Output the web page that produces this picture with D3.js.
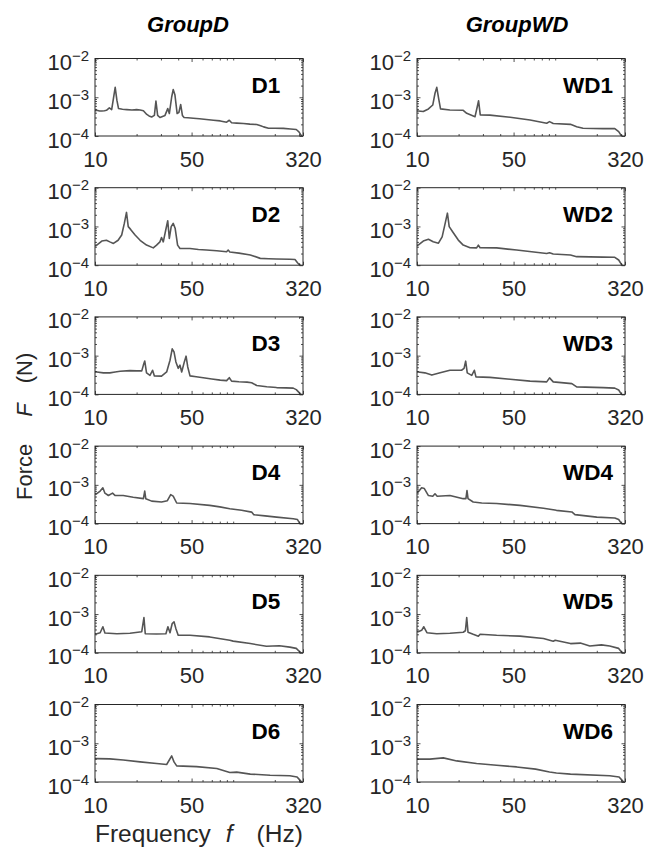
<!DOCTYPE html>
<html>
<head>
<meta charset="utf-8">
<script src="https://cdn.jsdelivr.net/npm/d3@7"></script>
<style>
  html, body { margin: 0; padding: 0; background: #fff; }
  svg { display: block; font-family: "Liberation Sans", Arial, Helvetica, sans-serif; }
</style>
</head>
<body>
<svg id="chart" width="648" height="859"></svg>
<script>
// Column headings and panel names
const groups = ["GroupD", "GroupWD"];
const panelNames = [
  ["D1", "D2", "D3", "D4", "D5", "D6"],
  ["WD1", "WD2", "WD3", "WD4", "WD5", "WD6"]
];

// Axis ticks
const xTickValues = [10, 50, 320];
const xMinorTicks = [20, 30, 40, 60, 70, 80, 90, 100, 200, 300];
const yTickValues = [1e-4, 1e-3, 1e-2];
const yTickExponents = ["-4", "-3", "-2"];
const yMinorTicks = [2e-4, 3e-4, 4e-4, 5e-4, 6e-4, 7e-4, 8e-4, 9e-4,
                     2e-3, 3e-3, 4e-3, 5e-3, 6e-3, 7e-3, 8e-3, 9e-3];

// Force spectra: [frequency (Hz), force (N)]
const D1 = [[10,4.5e-4],[10.3,4.6e-4],[10.8,4.4e-4],[11.2,4.4e-4],[11.7,4.5e-4],[12.1,4.6e-4],[12.7,5.3e-4],[13.2,4.8e-4],
  [13.6,9.3e-4],[14.0,1.8e-3],[14.4,8.4e-4],[14.8,5.1e-4],[15.8,4.9e-4],[17.0,4.8e-4],[18.5,4.7e-4],[20.0,4.8e-4],
  [21.2,4.7e-4],[22.4,4.5e-4],[23.7,3.6e-4],[24.6,3.3e-4],[25.7,3.1e-4],[26.9,3.4e-4],[27.6,8.0e-4],[28.4,3.4e-4],
  [29.5,3.0e-4],[30.8,3.2e-4],[32.1,3.4e-4],[33.6,5.1e-4],[34.5,3.8e-4],[35.9,1.03e-3],[36.8,1.58e-3],[37.9,1.14e-3],
  [39.3,3.8e-4],[40.5,4.1e-4],[41.7,6.5e-4],[42.9,3.4e-4],[44.1,3.0e-4],[47,2.95e-4],[51.5,2.88e-4],[57,2.8e-4],
  [64,2.67e-4],[72,2.55e-4],[80.6,2.45e-4],[89.6,2.27e-4],[93.7,2.55e-4],[97.4,2.2e-4],[106,2.15e-4],[118.6,2.1e-4],
  [132,2.02e-4],[148,1.98e-4],[158,1.85e-4],[166,1.72e-4],[180,1.59e-4],[200,1.58e-4],[231,1.57e-4],[260,1.52e-4],
  [286,1.47e-4],[299,1.28e-4],[313,9.9e-5],[320,9e-5]];
const D2 = [[10,3.2e-4],[10.3,3.3e-4],[11.2,4.2e-4],[12.1,4.4e-4],[12.8,4.0e-4],[13.6,3.65e-4],[14.7,4.4e-4],[15.6,6.0e-4],
  [16.3,1.2e-3],[16.9,2.3e-3],[17.4,9.9e-4],[18.1,8.4e-4],[19.5,6.0e-4],[21.2,4.4e-4],[23.6,3.3e-4],[26.4,2.8e-4],
  [27.9,3.3e-4],[29.5,4.0e-4],[30.3,5.2e-4],[31.2,4.0e-4],[32.5,8.1e-4],[33.6,1.4e-3],[34.5,4.9e-4],[35.6,9.9e-4],
  [36.8,1.2e-3],[38.0,9.0e-4],[39.6,3.3e-4],[41.2,2.7e-4],[48.7,2.7e-4],[56,2.55e-4],[64,2.46e-4],[76,2.35e-4],
  [89.6,2.23e-4],[92,2.46e-4],[94.5,2.2e-4],[110,2.05e-4],[133,1.84e-4],[157,1.5e-4],[180,1.47e-4],[206,1.45e-4],
  [257,1.43e-4],[280,1.4e-4],[292,1.16e-4],[304,1e-4],[320,9e-5]];
const D3 = [[10,3.8e-4],[10.3,3.8e-4],[11.5,3.6e-4],[12.8,3.6e-4],[14,3.8e-4],[15.2,3.95e-4],[17.9,4.1e-4],[20,4.05e-4],
  [21.8,4.05e-4],[22.4,5.7e-4],[22.9,7.3e-4],[23.6,3.6e-4],[25,3.1e-4],[26.1,4.2e-4],[26.9,3.0e-4],[30.3,2.97e-4],
  [33,3.8e-4],[34.9,7.6e-4],[36.2,1.5e-3],[37.3,1.25e-3],[38.5,6.9e-4],[40,4.7e-4],[41.2,5.7e-4],[42.4,3.8e-4],
  [44.3,6.9e-4],[45.6,9.7e-4],[46.9,5.1e-4],[48.7,3.0e-4],[54,2.85e-4],[60.7,2.7e-4],[70,2.5e-4],[80.6,2.33e-4],
  [89.6,2.27e-4],[93.7,2.7e-4],[97.4,2.2e-4],[110,2.12e-4],[126,2.07e-4],[136,2.0e-4],[148,1.7e-4],[175,1.58e-4],
  [206,1.5e-4],[240,1.47e-4],[272,1.45e-4],[286,1.33e-4],[305,1.05e-4],[320,9e-5]];
const D4 = [[10,5.8e-4],[10.3,5.9e-4],[10.9,6.9e-4],[11.4,8.4e-4],[11.8,6.1e-4],[12.5,5.3e-4],[13.4,6.1e-4],[14,5.3e-4],
  [16,5.3e-4],[18.9,4.8e-4],[22.4,4.4e-4],[22.9,6.9e-4],[23.3,4.4e-4],[25.7,3.8e-4],[30.3,3.6e-4],[33.4,3.9e-4],
  [35.3,5.6e-4],[36.8,5.1e-4],[39,3.4e-4],[48.7,3.3e-4],[67.6,2.95e-4],[80,2.7e-4],[94.5,2.42e-4],[115,2.2e-4],
  [136,1.98e-4],[141,1.7e-4],[170,1.58e-4],[206,1.47e-4],[272,1.33e-4],[292,1.27e-4],[304,1e-4],[320,9e-5]];
const D5 = [[10,3.1e-4],[10.3,3.1e-4],[10.9,3.3e-4],[11.4,4.7e-4],[11.8,3.25e-4],[14.4,3.1e-4],[17.9,3.2e-4],[21.8,3.5e-4],
  [22.6,8.1e-4],[23.1,3.1e-4],[27.9,3.05e-4],[32.6,3.1e-4],[33.7,4.7e-4],[34.9,3.3e-4],[36.2,5.7e-4],[37.3,6.3e-4],
  [38.5,4.2e-4],[40,2.83e-4],[48.7,2.83e-4],[67.6,2.57e-4],[94.5,2.1e-4],[100,2.0e-4],[133,1.73e-4],[174,1.47e-4],
  [216,1.52e-4],[257,1.4e-4],[286,1.3e-4],[304,1.05e-4],[320,9e-5]];
const D6 = [[10,4.0e-4],[10.3,4.0e-4],[12.8,3.95e-4],[16,3.7e-4],[21.2,3.3e-4],[27.9,3.0e-4],[33,2.83e-4],[34.5,3.7e-4],
  [35.9,4.7e-4],[37.3,3.3e-4],[39,2.6e-4],[54.3,2.5e-4],[76.1,2.23e-4],[94.5,1.76e-4],[106,1.8e-4],[133,1.6e-4],
  [185,1.5e-4],[257,1.45e-4],[290,1.35e-4],[305,1.1e-4],[320,9e-5]];
const WD1 = [[10,4.4e-4],[10.2,4.4e-4],[11.1,4.3e-4],[12.1,5.0e-4],[13.0,6.3e-4],[13.5,1.27e-3],[13.9,1.8e-3],[14.4,8.5e-4],
  [14.8,5.0e-4],[17.3,4.7e-4],[21.6,4.6e-4],[22.9,3.85e-4],[26.3,3.15e-4],[27.3,5.7e-4],[27.9,8.1e-4],[28.7,3.5e-4],
  [33.7,3.45e-4],[47.2,3.05e-4],[65.8,2.6e-4],[86.8,2.13e-4],[91,2.35e-4],[96.8,2.1e-4],[129,2.0e-4],[143,1.74e-4],
  [159,1.58e-4],[222,1.55e-4],[270,1.55e-4],[288,1.3e-4],[302,1e-4],[320,9e-5]];
const WD2 = [[10,3.2e-4],[10.2,3.3e-4],[11.1,4.2e-4],[12.1,4.65e-4],[13.1,4.05e-4],[14.3,3.7e-4],[15.2,5.4e-4],[15.9,1.1e-3],
  [16.6,2.2e-3],[17.1,9.9e-4],[18.1,7.3e-4],[19.9,4.45e-4],[21.6,3.3e-4],[24.2,2.83e-4],[27,2.8e-4],[27.8,3.3e-4],
  [28.6,2.83e-4],[37.7,2.8e-4],[52.6,2.46e-4],[86.8,2.0e-4],[91,2.1e-4],[96.8,1.95e-4],[129,1.84e-4],[143,1.66e-4],
  [222,1.62e-4],[270,1.6e-4],[288,1.36e-4],[304,1e-4],[320,9e-5]];
const WD3 = [[10,3.8e-4],[10.2,3.8e-4],[11.4,3.6e-4],[12.8,3.15e-4],[14.7,3.6e-4],[17.3,4.2e-4],[21,4.2e-4],[21.9,4.7e-4],
  [22.5,7.2e-4],[23.1,3.6e-4],[24.9,3.1e-4],[26,4.2e-4],[26.7,2.83e-4],[33.7,2.75e-4],[47.2,2.46e-4],[65.8,2.2e-4],
  [86.8,2.1e-4],[91,2.67e-4],[96.8,2.1e-4],[132,1.9e-4],[143,1.56e-4],[222,1.5e-4],[270,1.45e-4],[288,1.3e-4],
  [302,1e-4],[320,9e-5]];
const WD4 = [[10,6.3e-4],[10.2,6.5e-4],[10.8,8.4e-4],[11.3,8.0e-4],[12.1,5.3e-4],[13.0,5.1e-4],[13.5,5.9e-4],[14.0,5.1e-4],
  [17.3,5.3e-4],[21.6,4.4e-4],[22.6,4.4e-4],[23,7.1e-4],[23.4,4.4e-4],[25.5,3.6e-4],[29.4,3.4e-4],[37.7,3.3e-4],
  [55.6,2.95e-4],[82.3,2.5e-4],[102,2.2e-4],[132,2.0e-4],[139,1.7e-4],[200,1.47e-4],[270,1.4e-4],[288,1.27e-4],
  [302,1e-4],[320,9e-5]];
const WD5 = [[10,3.5e-4],[10.2,3.5e-4],[10.8,3.8e-4],[11.2,4.7e-4],[11.8,3.3e-4],[13.9,3.1e-4],[17.3,3.2e-4],[21.6,3.4e-4],
  [22.4,3.7e-4],[22.9,8.1e-4],[23.4,3.4e-4],[25.5,3.0e-4],[27.8,2.67e-4],[28.6,3.0e-4],[37.7,2.83e-4],[55.6,2.7e-4],
  [82.3,2.33e-4],[96.8,1.98e-4],[100,2.1e-4],[129,1.73e-4],[152,1.78e-4],[178,1.5e-4],[216,1.6e-4],[248,1.5e-4],
  [288,1.3e-4],[302,1.05e-4],[320,9e-5]];
const WD6 = [[10,3.9e-4],[10.2,3.9e-4],[12.4,3.9e-4],[15.5,4.2e-4],[19.4,3.5e-4],[27,3.0e-4],[37.7,2.7e-4],[52.6,2.45e-4],
  [72.2,2.15e-4],[91,1.82e-4],[102,1.7e-4],[129,1.6e-4],[248,1.45e-4],[290,1.35e-4],[305,1.1e-4],[320,9e-5]];

const spectra = [[D1, D2, D3, D4, D5, D6], [WD1, WD2, WD3, WD4, WD5, WD6]];

// Layout
const colLeft = [95, 417];
const colTitleX = [188, 517];
const plotW = 208, plotH = 77.5;
const rowTop0 = 58.5, rowStep = 129.2;
const axisColor = "#262626";
const lineColor = "#555555";

const svg = d3.select("#chart");

const x = d3.scaleLog().domain([10, 320]).range([0, plotW]);
const y = d3.scaleLog().domain([1e-4, 1e-2]).range([plotH, 0]);
const line = d3.line().x(d => x(d[0])).y(d => y(d[1]));

// Column titles
groups.forEach((g, c) => {
  svg.append("text")
    .attr("x", colTitleX[c]).attr("y", 32)
    .attr("text-anchor", "middle")
    .attr("font-size", 22).attr("font-weight", "bold").attr("font-style", "italic")
    .attr("fill", "#000")
    .text(g);
});

function innerTicks(g, axisFn, values, size) {
  g.call(axisFn.tickValues(values).tickSize(-size).tickFormat(""))
   .call(s => s.select(".domain").remove())
   .call(s => s.selectAll(".tick line").attr("stroke", axisColor).attr("stroke-width", 0.8));
}

panelNames.forEach((names, c) => {
  names.forEach((name, r) => {
    const top = rowTop0 + r * rowStep;
    const panel = svg.append("g").attr("transform", `translate(${colLeft[c]},${top})`);
    const clipId = `clip-${name}`;
    panel.append("clipPath").attr("id", clipId)
      .append("rect").attr("width", plotW).attr("height", plotH);

    // spectrum
    panel.append("path")
      .datum(spectra[c][r])
      .attr("clip-path", `url(#${clipId})`)
      .attr("fill", "none")
      .attr("stroke", lineColor)
      .attr("stroke-width", 1.6)
      .attr("stroke-linejoin", "round")
      .attr("d", line);

    // minor and major ticks on all four sides, pointing inward
    innerTicks(panel.append("g").attr("transform", `translate(0,${plotH})`), d3.axisBottom(x), xMinorTicks, 2);
    innerTicks(panel.append("g").attr("transform", `translate(0,${plotH})`), d3.axisBottom(x), xTickValues, 3.5);
    innerTicks(panel.append("g"), d3.axisTop(x), xMinorTicks, 2);
    innerTicks(panel.append("g"), d3.axisTop(x), xTickValues, 3.5);
    innerTicks(panel.append("g"), d3.axisLeft(y), yMinorTicks, 2);
    innerTicks(panel.append("g"), d3.axisLeft(y), yTickValues, 3.5);
    innerTicks(panel.append("g").attr("transform", `translate(${plotW},0)`), d3.axisRight(y), yMinorTicks, 2);
    innerTicks(panel.append("g").attr("transform", `translate(${plotW},0)`), d3.axisRight(y), yTickValues, 3.5);

    // frame
    panel.append("rect")
      .attr("width", plotW).attr("height", plotH)
      .attr("fill", "none").attr("stroke", axisColor).attr("stroke-width", 1);

    // x tick labels
    panel.append("g").attr("transform", `translate(0,${plotH})`)
      .call(d3.axisBottom(x).tickValues(xTickValues).tickSize(0).tickPadding(15).tickFormat(d3.format("d")))
      .call(s => s.select(".domain").remove())
      .call(s => s.selectAll("text")
        .attr("font-size", 22).attr("fill", axisColor)
        .attr("font-family", "'Liberation Sans', Arial, sans-serif"));

    // y tick labels as powers of ten
    const yl = panel.append("g")
      .call(d3.axisLeft(y).tickValues(yTickValues).tickSize(0).tickFormat(""))
      .call(s => s.select(".domain").remove());
    yl.selectAll(".tick").each(function(d) {
      const t = d3.select(this).append("text")
        .attr("x", -6).attr("y", 11)
        .attr("text-anchor", "end")
        .attr("fill", axisColor)
        .attr("font-family", "'Liberation Sans', Arial, sans-serif");
      t.append("tspan").attr("font-size", 22).text("10");
      t.append("tspan").attr("font-size", 15).attr("dy", -9)
        .text(yTickExponents[yTickValues.indexOf(d)].replace("-", "\u2212"));
    });

    // panel name
    panel.append("text")
      .attr("x", 171).attr("y", 34)
      .attr("text-anchor", "middle")
      .attr("font-size", 22.5).attr("font-weight", "bold")
      .attr("fill", "#000")
      .text(name);
  });
});

// Axis titles
const xLab = svg.append("text")
  .attr("x", 95).attr("y", 842)
  .attr("text-anchor", "start")
  .attr("font-size", 24.5).attr("fill", axisColor);
xLab.append("tspan").text("Frequency");
xLab.append("tspan").attr("dx", 15).attr("font-style", "italic").text("f");
xLab.append("tspan").attr("dx", 24).text("(Hz)");

const yLab = svg.append("text")
  .attr("transform", "translate(32,500) rotate(-90)")
  .attr("text-anchor", "start")
  .attr("font-size", 22).attr("fill", axisColor);
yLab.append("tspan").text("Force");
yLab.append("tspan").attr("dx", 27).attr("font-style", "italic").text("F");
yLab.append("tspan").attr("dx", 20).text("(N)");
</script>
</body>
</html>
